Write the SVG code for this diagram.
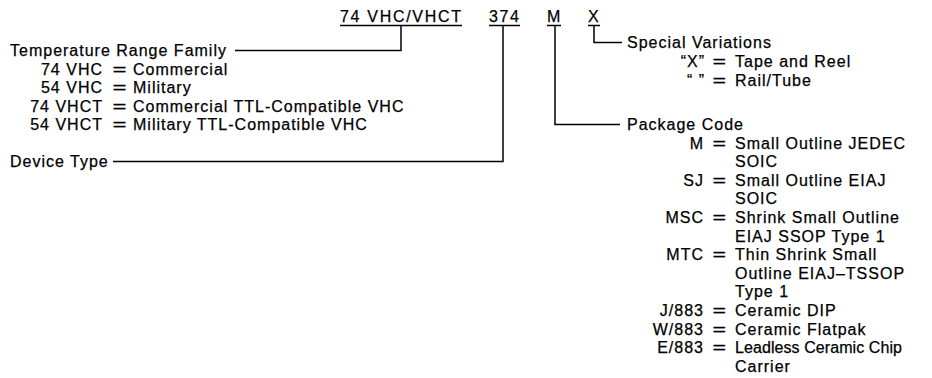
<svg xmlns="http://www.w3.org/2000/svg" width="932" height="378" viewBox="0 0 932 378">
<style>
text{font-family:"Liberation Sans",Arial,Helvetica,sans-serif;font-size:16px;fill:#000;stroke:#000;stroke-width:0.25;letter-spacing:1px}
.e{text-anchor:end}
.q{letter-spacing:0}
.ln{fill:none;stroke:#000;stroke-width:1.5}
</style>
<rect width="932" height="378" fill="#fff"/>
<g id="part-number">
  <g id="field-family"><text x="340" y="22" textLength="122" lengthAdjust="spacing">74 VHC/VHCT</text><line class="ln" x1="340" y1="25.5" x2="462" y2="25.5"/></g>
  <g id="field-device"><text x="489" y="22" textLength="31" lengthAdjust="spacing">374</text><line class="ln" x1="489" y1="25.5" x2="520" y2="25.5"/></g>
  <g id="field-package"><text x="547" y="22" textLength="14" lengthAdjust="spacing">M</text><line class="ln" x1="547" y1="25.5" x2="561" y2="25.5"/></g>
  <g id="field-special"><text x="588" y="22" textLength="12" lengthAdjust="spacing">X</text><line class="ln" x1="588" y1="25.5" x2="600" y2="25.5"/></g>
</g>
<g id="connectors">
  <polyline class="ln" points="401,25.5 401,50.5 235,50.5"/>
  <polyline class="ln" points="503,25.5 503,161.5 113,161.5"/>
  <polyline class="ln" points="555,25.5 555,124.5 620,124.5"/>
  <polyline class="ln" points="594,25.5 594,42.5 622,42.5"/>
</g>
<g id="temperature-range">
  <text x="10" y="56">Temperature Range Family</text>
  <text class="e" x="103" y="74.5">74 VHC</text><text class="q" x="112.5" y="74.5" textLength="14" lengthAdjust="spacingAndGlyphs">=</text><text x="133" y="74.5">Commercial</text>
  <text class="e" x="103" y="93">54 VHC</text><text class="q" x="112.5" y="93" textLength="14" lengthAdjust="spacingAndGlyphs">=</text><text x="133" y="93">Military</text>
  <text class="e" x="103" y="111.5">74 VHCT</text><text class="q" x="112.5" y="111.5" textLength="14" lengthAdjust="spacingAndGlyphs">=</text><text x="133" y="111.5">Commercial TTL-Compatible VHC</text>
  <text class="e" x="103" y="130">54 VHCT</text><text class="q" x="112.5" y="130" textLength="14" lengthAdjust="spacingAndGlyphs">=</text><text x="133" y="130">Military TTL-Compatible VHC</text>
</g>
<g id="device-type">
  <text x="10" y="167">Device Type</text>
</g>
<g id="special-variations">
  <text x="627" y="48">Special Variations</text>
  <text class="e" x="705" y="67">“X”</text><text class="q" x="712.5" y="67" textLength="13.5" lengthAdjust="spacingAndGlyphs">=</text><text x="735" y="67">Tape and Reel</text>
  <text class="e" x="705" y="86">“ ”</text><text class="q" x="712.5" y="86" textLength="13.5" lengthAdjust="spacingAndGlyphs">=</text><text x="735" y="86">Rail/Tube</text>
</g>
<g id="package-code">
  <text x="627" y="130">Package Code</text>
  <text class="e" x="704" y="148.6">M</text><text class="q" x="712.5" y="148.6" textLength="13.5" lengthAdjust="spacingAndGlyphs">=</text><text x="735" y="148.6">Small Outline JEDEC</text>
  <text x="735" y="167.2">SOIC</text>
  <text class="e" x="704" y="185.8">SJ</text><text class="q" x="712.5" y="185.8" textLength="13.5" lengthAdjust="spacingAndGlyphs">=</text><text x="735" y="185.8">Small Outline EIAJ</text>
  <text x="735" y="204.4">SOIC</text>
  <text class="e" x="704" y="223">MSC</text><text class="q" x="712.5" y="223" textLength="13.5" lengthAdjust="spacingAndGlyphs">=</text><text x="735" y="223">Shrink Small Outline</text>
  <text x="735" y="241.6">EIAJ SSOP Type 1</text>
  <text class="e" x="704" y="260.2">MTC</text><text class="q" x="712.5" y="260.2" textLength="13.5" lengthAdjust="spacingAndGlyphs">=</text><text x="735" y="260.2">Thin Shrink Small</text>
  <text x="735" y="278.8">Outline EIAJ–TSSOP</text>
  <text x="735" y="297.4">Type 1</text>
  <text class="e" x="704" y="316">J/883</text><text class="q" x="712.5" y="316" textLength="13.5" lengthAdjust="spacingAndGlyphs">=</text><text x="735" y="316">Ceramic DIP</text>
  <text class="e" x="704" y="334.6">W/883</text><text class="q" x="712.5" y="334.6" textLength="13.5" lengthAdjust="spacingAndGlyphs">=</text><text x="735" y="334.6">Ceramic Flatpak</text>
  <text class="e" x="704" y="353.2">E/883</text><text class="q" x="712.5" y="353.2" textLength="13.5" lengthAdjust="spacingAndGlyphs">=</text><text x="735" y="353.2" textLength="168" lengthAdjust="spacing">Leadless Ceramic Chip</text>
  <text x="735" y="371.8">Carrier</text>
</g>
</svg>
